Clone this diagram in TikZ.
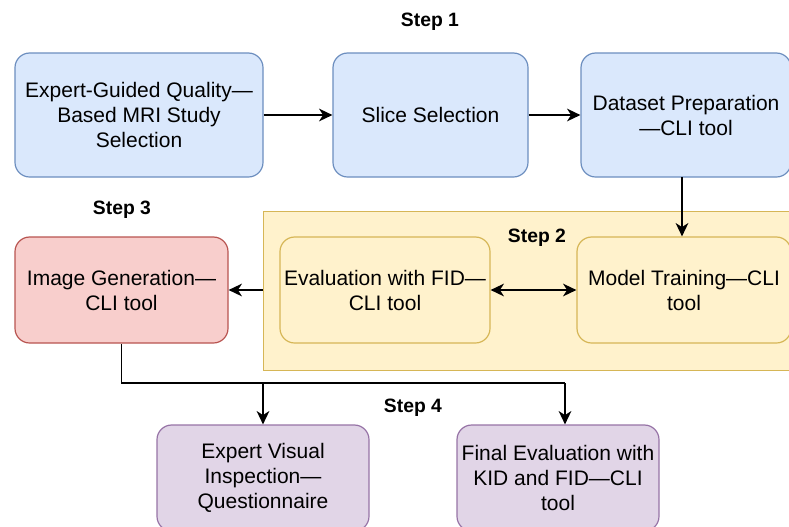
\documentclass[tikz,border=0pt]{standalone}
\usepackage{fontspec}
\setmainfont{Liberation Sans}
\usetikzlibrary{arrows.meta}

\definecolor{blueFill}{HTML}{DAE8FC}
\definecolor{blueLine}{HTML}{6C8EBF}
\definecolor{yelFill}{HTML}{FFF2CC}
\definecolor{yelLine}{HTML}{D6B656}
\definecolor{redFill}{HTML}{F8CECC}
\definecolor{redLine}{HTML}{B85450}
\definecolor{purFill}{HTML}{E1D5E7}
\definecolor{purLine}{HTML}{9673A6}

\tikzset{
  card/.style={draw, rounded corners=11pt, line width=0.9pt, align=center,
    inner sep=0pt, font=\fontsize{15.75pt}{18.75pt}\selectfont},
  bluecard/.style={card, fill=blueFill, draw=blueLine},
  yelcard/.style={card, fill=yelFill, draw=yelLine},
  redcard/.style={card, fill=redFill, draw=redLine},
  purcard/.style={card, fill=purFill, draw=purLine},
  steplabel/.style={font=\fontsize{14.5pt}{17pt}\selectfont\bfseries},
  tip/.tip={Stealth[length=10pt, width=9.5pt, inset=3pt]},
  link/.style={line width=1.2pt, draw=black},
  arr/.style={link, -tip},
  dblarr/.style={link, tip-tip}
}

\begin{document}
\begin{tikzpicture}[x=0.75pt, y=-0.75pt]
  \useasboundingbox (0,0) rectangle (789,526);
  \clip (0,0) rectangle (789,526);

  % Step 2 container
  \node[draw=yelLine, fill=yelFill, line width=0.9pt, minimum width=540*0.75pt,
        minimum height=159*0.75pt, inner sep=0pt, anchor=north west]
        (stagetwo) at (263,211) {};

  % Step 1 row
  \node[bluecard, minimum width=248*0.75pt, minimum height=124*0.75pt]
    (guided) at (139,115) {Expert-Guided Quality—\\Based MRI Study\\Selection};
  \node[bluecard, minimum width=195*0.75pt, minimum height=124*0.75pt]
    (slice) at (430.5,115) {Slice Selection};
  \node[bluecard, minimum width=210*0.75pt, minimum height=124*0.75pt]
    (dataset) at (686,115) {Dataset Preparation\\—CLI tool};

  % Step 2 boxes
  \node[yelcard, minimum width=210*0.75pt, minimum height=106*0.75pt]
    (evalfid) at (385,290) {Evaluation with FID—\\CLI tool};
  \node[yelcard, minimum width=214*0.75pt, minimum height=106*0.75pt]
    (training) at (684,290) {Model Training—CLI\\tool};

  % Step 3 box
  \node[redcard, minimum width=213*0.75pt, minimum height=106*0.75pt]
    (imggen) at (121.5,290) {Image Generation—\\CLI tool};

  % Step 4 boxes
  \node[purcard, minimum width=212*0.75pt, minimum height=106*0.75pt]
    (visual) at (263,478) {Expert Visual\\Inspection—\\Questionnaire};
  \node[purcard, minimum width=202*0.75pt, minimum height=106*0.75pt]
    (finaleval) at (558,478) {Final Evaluation with\\KID and FID—CLI\\tool};

  % Step labels
  \node[steplabel] (s1) at (430,22) {Step 1};
  \node[steplabel] (s2) at (537,238) {Step 2};
  \node[steplabel] (s3) at (122,210) {Step 3};
  \node[steplabel] (s4) at (413,408) {Step 4};

  % Connectors
  \draw[arr] (guided.east) -- (slice.west);
  \draw[arr] (slice.east) -- (dataset.west);
  \coordinate (drop) at (682,177);
  \draw[arr] (drop) -- (drop |- training.north);
  \draw[dblarr] (evalfid.east) -- (training.west);
  \draw[arr] (stagetwo.west |- imggen.east) -- (imggen.east);

  \coordinate (bendL) at (121.5,383);
  \coordinate (bendR) at (565,383);
  \draw[link] (imggen.south) -- (bendL) -- (bendR);
  \draw[arr] (visual.north |- bendL) -- (visual.north);
  \draw[arr] (bendR) -- (bendR |- finaleval.north);
\end{tikzpicture}
\end{document}
